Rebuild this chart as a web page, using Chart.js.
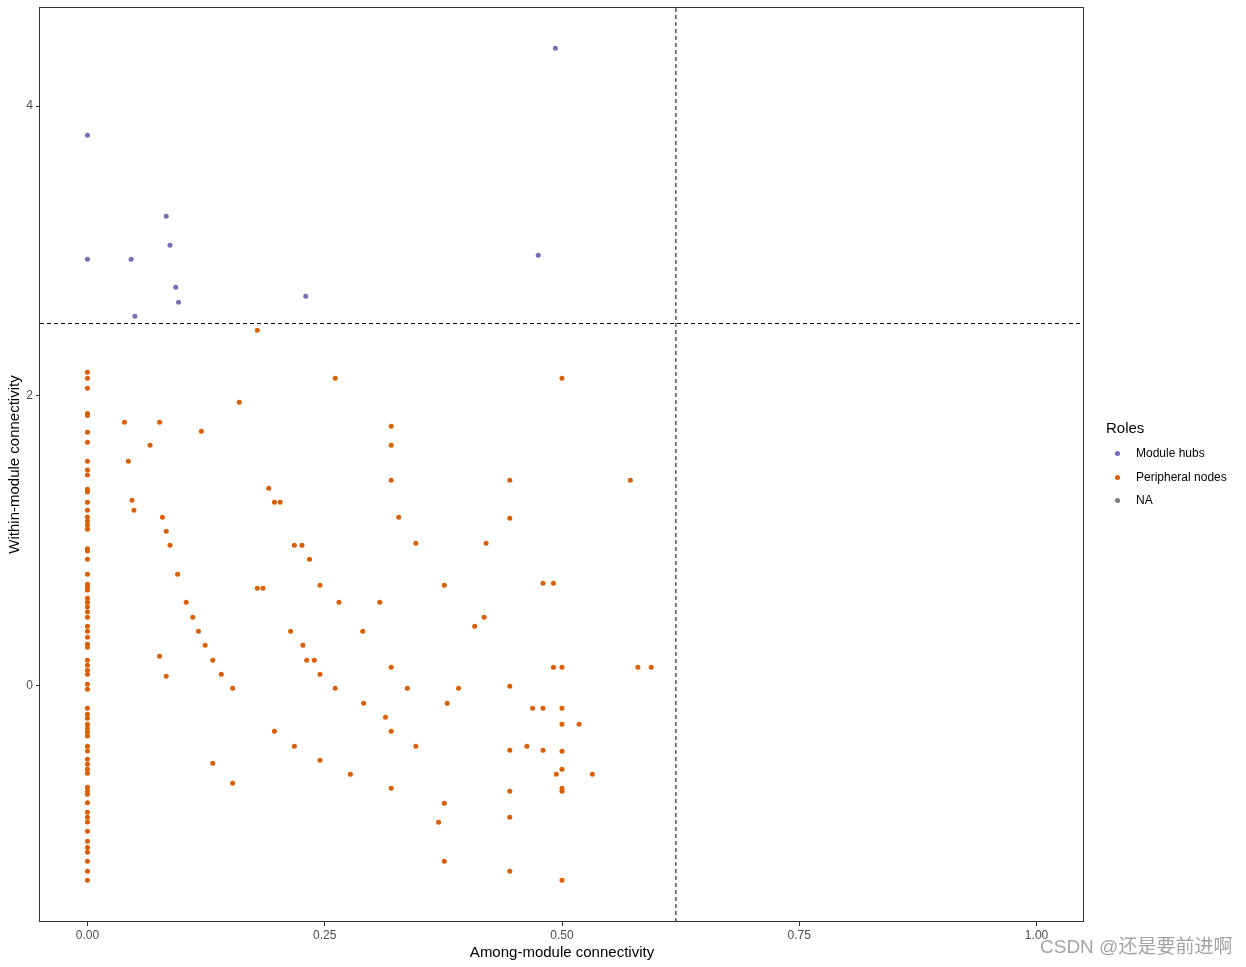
<!DOCTYPE html>
<html>
<head>
<meta charset="utf-8">
<script src="https://cdn.jsdelivr.net/npm/chart.js@4.4.1/dist/chart.umd.min.js"></script>
<style>
html,body{margin:0;padding:0;background:#fff;}
#wrap{position:relative;width:1246px;height:967px;overflow:hidden;}
#c{position:absolute;left:0;top:0;}
.lg{position:absolute;font-family:"Liberation Sans",Arial,sans-serif;color:#000;white-space:nowrap;}
.dot{position:absolute;width:5px;height:5px;border-radius:50%;}
#wm{position:absolute;left:1040px;top:935px;font-family:"Liberation Sans","Noto Sans CJK SC",sans-serif;font-size:19px;line-height:24px;color:rgba(140,140,140,0.8);white-space:nowrap;}
</style>
</head>
<body>
<div id="wrap">
<canvas id="c" width="1246" height="967"></canvas>
<div id="legend"></div>
<div id="wm">CSDN @还是要前进啊</div>
</div>
<script>
// ---- data ----
const roleNames = ['Module hubs', 'Peripheral nodes', 'NA'];
const roleColors = ['#7570B3', '#D95F02', '#7F7F7F'];

const hubX = [0.493, 0, 0.083, 0.087, 0, 0.046, 0.475, 0.093, 0.096, 0.230, 0.050];
const hubY = [4.398, 3.798, 3.239, 3.039, 2.943, 2.943, 2.970, 2.750, 2.646, 2.688, 2.550];

// peripheral nodes with among-module connectivity = 0
const zeroColumnY = [2.163, 2.122, 2.053, 1.879, 1.866, 1.750, 1.681, 1.550, 1.490, 1.455,
  1.357, 1.338, 1.267, 1.212, 1.166, 1.138, 1.110, 1.081, 0.947, 0.931, 0.874, 0.770,
  0.701, 0.683, 0.662, 0.605, 0.577, 0.547, 0.512, 0.474, 0.412, 0.377, 0.336, 0.288,
  0.267, 0.177, 0.143, 0.108, 0.081, 0.012, -0.023, -0.154, -0.195, -0.223, -0.264,
  -0.292, -0.317, -0.345, -0.416, -0.448, -0.506, -0.540, -0.574, -0.602, -0.699,
  -0.724, -0.747, -0.805, -0.871, -0.906, -0.938, -1.002, -1.071, -1.115, -1.147,
  -1.209, -1.278, -1.340];

// other peripheral nodes
const periphX = [0.160, 0.039, 0.076, 0.120, 0.066, 0.043, 0.191, 0.197, 0.203, 0.047,
  0.049, 0.079, 0.083, 0.087, 0.218, 0.226, 0.234, 0.095, 0.179, 0.185,
  0.245, 0.104, 0.111, 0.117, 0.214, 0.124, 0.227, 0.076, 0.132, 0.231,
  0.239, 0.083, 0.141, 0.245, 0.153, 0.261, 0.500, 0.320, 0.320, 0.320,
  0.445, 0.572, 0.328, 0.445, 0.346, 0.420, 0.376, 0.480, 0.491, 0.265,
  0.308, 0.418, 0.408, 0.290, 0.320, 0.491, 0.500, 0.580, 0.594, 0.261,
  0.337, 0.391, 0.445, 0.291, 0.379, 0.469, 0.480, 0.500, 0.314, 0.500,
  0.518, 0.320, 0.346, 0.463, 0.445, 0.480, 0.500, 0.245, 0.500, 0.277,
  0.494, 0.532, 0.320, 0.445, 0.500, 0.500, 0.376, 0.445, 0.370, 0.376,
  0.445, 0.500, 0.197, 0.218, 0.132, 0.153, 0.179];
const periphY = [1.957, 1.819, 1.819, 1.757, 1.660, 1.550, 1.364, 1.267, 1.267, 1.281,
  1.212, 1.163, 1.067, 0.970, 0.970, 0.970, 0.874, 0.770, 0.674, 0.674,
  0.694, 0.577, 0.474, 0.377, 0.377, 0.281, 0.281, 0.205, 0.177, 0.177,
  0.177, 0.067, 0.081, 0.081, -0.016, 2.122, 2.122, 1.791, 1.660, 1.419,
  1.419, 1.419, 1.163, 1.157, 0.984, 0.984, 0.694, 0.708, 0.708, 0.577,
  0.577, 0.474, 0.412, 0.377, 0.129, 0.129, 0.129, 0.129, 0.129, -0.016,
  -0.016, -0.016, -0.002, -0.119, -0.119, -0.154, -0.154, -0.154, -0.216, -0.264,
  -0.264, -0.312, -0.416, -0.416, -0.443, -0.443, -0.450, -0.512, -0.574, -0.609,
  -0.609, -0.609, -0.706, -0.726, -0.706, -0.726, -0.809, -0.906, -0.940, -1.209,
  -1.278, -1.340, -0.312, -0.416, -0.533, -0.671, 2.453];

const xTicks = [0, 0.25, 0.5, 0.75, 1.0];
const yTicks = [0, 2, 4];
const xLimits = [-0.05, 1.05];
const yLimits = [-1.628, 4.683];
const vLineX = 0.62;
const hLineY = 2.5;

// ---- build ----
const hubPts = hubX.map((x, i) => ({x: x, y: hubY[i]}));
const periphPts = zeroColumnY.map(y => ({x: 0, y: y}))
  .concat(periphX.map((x, i) => ({x: x, y: periphY[i]})));

const FONT = '"Liberation Sans", Arial, sans-serif';

const borderPlugin = {
  id: 'panelBorder',
  afterDraw(chart) {
    const {ctx, chartArea: a} = chart;
    ctx.save();
    ctx.strokeStyle = '#333333';
    ctx.lineWidth = 1;
    const l = Math.round(a.left) - 0.5, r = Math.round(a.right) - 0.5;
    const t = Math.round(a.top) + 0.5, b = Math.round(a.bottom) - 0.5;
    ctx.strokeRect(l, t, r - l, b - t);
    ctx.restore();
  }
};

const dashStyle = {borderColor: '#000', borderWidth: 1, borderDash: [4, 3], showLine: true,
  pointRadius: 0, fill: false, tension: 0};

new Chart(document.getElementById('c'), {
  type: 'scatter',
  data: {
    datasets: [
      Object.assign({label: 'vline', data: [{x: vLineX, y: yLimits[0]}, {x: vLineX, y: yLimits[1]}]}, dashStyle),
      Object.assign({label: 'hline', data: [{x: xLimits[0], y: hLineY}, {x: xLimits[1], y: hLineY}]}, dashStyle),
      {label: roleNames[0], data: hubPts, backgroundColor: roleColors[0], pointBackgroundColor: roleColors[0],
       pointRadius: 2.5, pointBorderWidth: 0, borderWidth: 0},
      {label: roleNames[1], data: periphPts, backgroundColor: roleColors[1], pointBackgroundColor: roleColors[1],
       pointRadius: 2.5, pointBorderWidth: 0, borderWidth: 0}
    ]
  },
  options: {
    responsive: false,
    animation: false,
    devicePixelRatio: 1,
    layout: {padding: {left: 0, right: 162, top: 7, bottom: 0}},
    plugins: {legend: {display: false}, tooltip: {enabled: false}},
    scales: {
      x: {
        type: 'linear', min: xLimits[0], max: xLimits[1],
        afterFit(s) { s.height = 45; s.paddingLeft = 0; s.paddingRight = 0; s.paddingTop = 0; s.paddingBottom = 0; },
        afterBuildTicks(s) { s.ticks = xTicks.map(v => ({value: v})); },
        ticks: {callback: v => Number(v).toFixed(2), color: '#4D4D4D', font: {family: FONT, size: 12},
                padding: 2, maxRotation: 0, autoSkip: false},
        grid: {display: true, drawOnChartArea: false, drawTicks: true, tickLength: 4, tickColor: '#333333'},
        border: {display: false},
        title: {display: true, text: 'Among-module connectivity', color: '#000',
                font: {family: FONT, size: 15}, padding: {top: 0, bottom: 5}}
      },
      y: {
        type: 'linear', min: yLimits[0], max: yLimits[1],
        afterFit(s) { s.width = 40; s.paddingLeft = 0; s.paddingRight = 0; s.paddingTop = 0; s.paddingBottom = 0; },
        afterBuildTicks(s) { s.ticks = yTicks.map(v => ({value: v})); },
        ticks: {callback: v => String(v), color: '#4D4D4D', font: {family: FONT, size: 12},
                padding: 3, autoSkip: false},
        grid: {display: true, drawOnChartArea: false, drawTicks: true, tickLength: 4, tickColor: '#333333'},
        border: {display: false},
        title: {display: true, text: 'Within-module connectivity', color: '#000',
                font: {family: FONT, size: 15}, padding: {top: 6, bottom: 0}}
      }
    }
  },
  plugins: [borderPlugin]
});

// ---- legend (HTML text) ----
const lg = document.getElementById('legend');
const title = document.createElement('div');
title.className = 'lg';
title.style.cssText = 'left:1106px;top:419px;font-size:15px;line-height:18px;';
title.textContent = 'Roles';
lg.appendChild(title);
const itemY = [453.3, 477, 500.3];
roleNames.forEach((name, i) => {
  const d = document.createElement('div');
  d.className = 'dot';
  d.style.left = (1117.3 - 2.5) + 'px';
  d.style.top = (itemY[i] - 2.5) + 'px';
  d.style.background = roleColors[i];
  lg.appendChild(d);
  const t = document.createElement('div');
  t.className = 'lg';
  t.style.cssText = 'left:1136px;font-size:12px;line-height:14px;top:' + (itemY[i] - 7) + 'px;';
  t.textContent = name;
  lg.appendChild(t);
});
</script>
</body>
</html>
